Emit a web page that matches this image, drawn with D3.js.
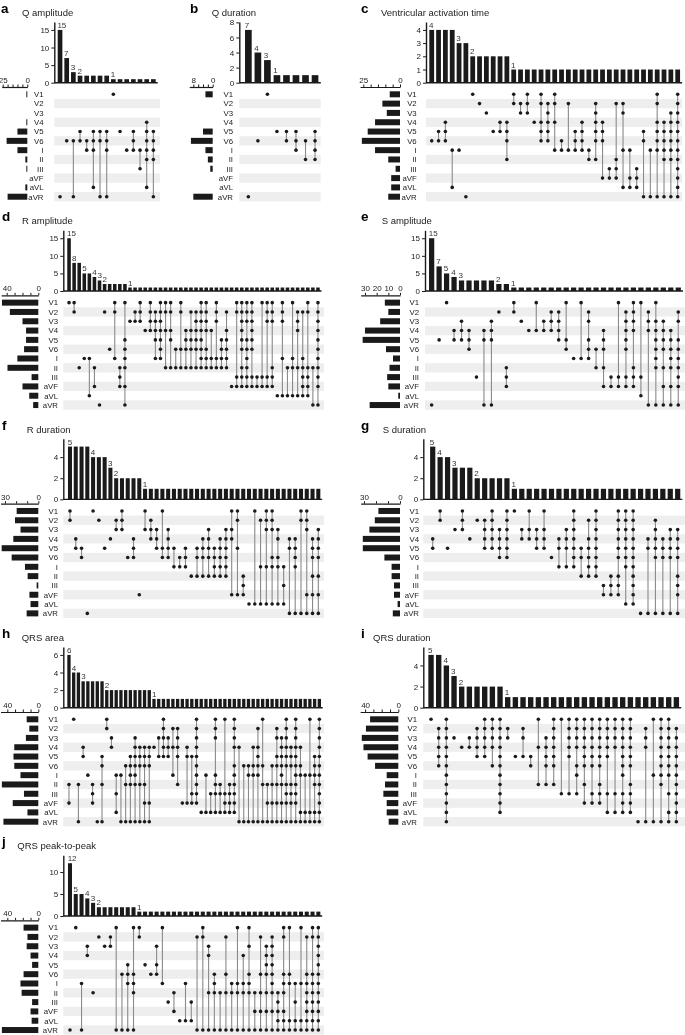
<!DOCTYPE html>
<html><head><meta charset="utf-8">
<script src="https://cdn.jsdelivr.net/npm/d3@7"></script>
<style>
body{margin:0;background:#fff}
svg{display:block;font-family:"Liberation Sans",Arial,Helvetica,sans-serif;will-change:transform}
</style>
</head><body>
<svg id="chart" width="685" height="1035"></svg>
<script>
// Leads (matrix rows). In the set strings below each character is an index into LEADS:
// 0..9 -> V1..aVF, a -> aVL, b -> aVR
const LEADS = ["V1","V2","V3","V4","V5","V6","I","II","III","aVF","aVL","aVR"];

// a: Q amplitude
const aCounts = [15,7,3,2,2,2,2,2,1,1,1,1,1,1,1];
const aSets = ["b","5","5b","45","56","456a","45b","456b","0","4","6","456","68","34567a","4567b"];
const aSizes = [1,0,0,1,10,21,10,2,1,0,2,20];
const aYTicks = [0,5,10,15];
const aSizeTicks = [0,5,10,15,20,25];
const aSizeLabels = [25,0];

// b: Q duration
const bCounts = [7,4,3,1,1,1,1,1];
const bSets = ["b","5","0","4","45","456","57","4567"];
const bSizes = [3,0,0,0,4,9,3,2,1,0,0,8];
const bYTicks = [0,2,4,6,8];
const bSizeTicks = [0,2,4,6,8];
const bSizeLabels = [8,0];

// c: Ventricular activation time
const cCounts = [4,4,4,4,3,3,2,2,2,2,2,2,1,1,1,1,1,1,1,1,1,1,1,1,1,1,1,1,1,1,1,1,1,1,1,1,1];
const cSets = ["5","45","345","6a","6","b","0","1","2","4","34","3457","01","12","012","3","01345","12345","0136","56","16","456","3456","67","123457","3459","89","1789","126a","69a","89a","45b","6b","013456b","34567b","234567b","0123456789ab"];
const cSizes = [7,12,9,17,22,26,17,8,3,6,6,8];
const cYTicks = [0,1,2,3,4];
const cSizeTicks = [0,5,10,15,20,25];
const cSizeLabels = [25,0];

// d: R amplitude
const dCounts = [15,8,8,5,5,4,3,2,2,2,2,2,1,1,1,1,1,1,1,1,1,1,1,1,1,1,1,1,1,1,1,1,1,1,1,1,1,1,1,1,1,1,1,1,1,1,1,1,1,1];
const dSets = ["0","01","7","6","6a","79","b","1","5","016","789","045679b","2","12","012","3","0123","12346","0123456","0137","01347","57","0157","3457","13457","123457","01234567","0123567","367","01267","4567","134567","9","0189","012345789","012456789","01234589","89","089","01289","012789","a","0126a","7a","067a","1237a","16789a","01789a","7b","0123456789b"];
const dSizes = [46,36,20,15.5,15.5,18,26.5,39,8.5,20,11.5,6.5];
const dYTicks = [0,5,10,15];
const dSizeTicks = [0,10,20,30,40];
const dSizeLabels = [40,0];

// e: S amplitude
const eCounts = [15,7,5,4,3,3,3,3,3,2,2,1,1,1,1,1,1,1,1,1,1,1,1,1,1,1,1,1,1,1,1,1,1,1];
const eSets = ["b","4","0","34","234","345","8","34b","234b","1","789","01","2","3","03","23","123","1234","045","6","06","12456","57","34579","89","089","1234589","0123789","08a","123b","0234567b","234579b","345679b","12456789b"];
const eSizes = [13,10,17,30,32,12,6,9,11,10,1.5,26];
const eYTicks = [0,5,10,15];
const eSizeTicks = [0,10,20,30];
const eSizeLabels = [30,20,10,0];

// f: R duration
const fCounts = [5,5,5,5,4,4,4,3,2,2,2,2,2,1,1,1,1,1,1,1,1,1,1,1,1,1,1,1,1,1,1,1,1,1,1,1,1,1,1,1,1,1,1,1];
const fSets = ["01","34","45","b","0","1","4","3","12","012","5","345","9","02","123","234","045","2345","46","56","456","7","457","3457","23457","4567","34567","234567","0239","0149","789","a","0a","16a","0126a","01256a","2356a","68a","34b","3456b","01b","0129b","34579b","234579b"];
const fSizes = [19.5,21,16,22.5,33,24,12,9.6,1.5,8,7,10.5];
const fYTicks = [0,2,4];
const fSizeTicks = [0,10,20,30];
const fSizeLabels = [30,0];

// g: S duration
const gCounts = [5,4,4,3,3,3,2,2,2,2,2,1,1,1,1,1,1,1,1,1,1,1,1,1,1,1,1,1,1,1,1,1,1,1];
const gSets = ["34","01","4","2","012","3","1","1234","01234","2345","012345","0","23","023","234","0234","5","346","2346","0123456","457","134567","01234567","89","789","012345789","0123456a","0123456789a","b","34b","12345b","345b","2345b","2345789b"];
const gSizes = [18,21,25.5,31,31,13,7,7,5,5,2,6];
const gYTicks = [0,2,4];
const gSizeTicks = [0,10,20,30];
const gSizeLabels = [30,0];

// h: QRS area
const hCounts = [6,4,4,3,3,3,3,3,2,2,2,2,2,2,2,2,2,2,1,1,1,1,1,1,1,1,1,1,1,1,1,1,1,1,1,1,1,1,1,1,1,1,1,1,1,1,1,1,1,1,1,1,1,1];
const hSets = ["79","0","7b","34","6","789","b","457b","01","23","68a","6b","57b","4567b","234567b","3457b","34579b","3459b","3","24","01234","234","136","12347","9","349","489","0123456789","a","6a","8a","012678a","78a","089a","789a","012356789a","3b","5b","56b","356b","13456b","057b","79b","579b","124579b","2345679b","012345789b","345789b","0123456789b","356ab","6ab","06ab","4567ab","0123456789ab"];
const hSizes = [15,11.6,16,31,32,31,23,47,18.5,33,14,45];
const hYTicks = [0,2,4,6];
const hSizeTicks = [0,10,20,30,40];
const hSizeLabels = [40,0];

// i: QRS duration
const iCounts = [5,5,4,3,2,2,2,2,2,2,1,1,1,1,1,1,1,1,1,1,1,1,1,1,1,1,1,1,1,1,1,1,1];
const iSets = ["0","12345","0123456789ab","2","3","23","1234","01234","01235","0123456789a","12","4","124","45","037","23457","0123457","08","012348","0123568","01234579","01234589","012345789","012348a","01238a","012345689a","012345789a","b","123b","06b","01234567b","01234568ab","123456789ab"];
const iSizes = [34,39,44,42,37,28,14,16,18,14,14,11.6];
const iYTicks = [0,2,4];
const iSizeTicks = [0,10,20,30,40];
const iSizeLabels = [40,0];

// j: QRS peak-to-peak
const jCounts = [12,5,5,4,3,2,2,2,2,2,2,2,1,1,1,1,1,1,1,1,1,1,1,1,1,1,1,1,1,1,1,1,1,1,1,1,1,1,1,1,1,1,1,1];
const jSets = ["b","0","6b","23","7","1","2","12","0b","5b","456b","0567b","01","4","5","245","06","8","79","a","6a","8a","1b","01b","237b","567b","7b","157b","67b","067b","367b","02567b","79b","1579b","234579b","12345679b","789ab","015679ab","056ab","68ab","06ab","156789ab","0156789ab","0123456789ab"];
const jSizes = [19,14,15,10,8,19,23,21.5,8,10,8.6,47];
const jYTicks = [0,5,10];
const jSizeTicks = [0,10,20,30,40];
const jSizeLabels = [40,0];

// ---------------- layout (positions only) ----------------
const ROW_H = 208.33;
const panels = [
  {id:"a", title:"Q amplitude", row:0, letterX:1, titleX:22, ax:54.3, rx:160, bx0:56.7, bx1:156.7, setRight:27.3, setPx:0.985, setMax:26, labelRight:43.5,
   counts:aCounts, sets:aSets, sizes:aSizes, yTicks:aYTicks, sizeTicks:aSizeTicks, sizeLabels:aSizeLabels},
  {id:"b", title:"Q duration", row:0, letterX:190, titleX:211.7, ax:239.3, rx:320.7, bx0:243.6, bx1:319.8, setRight:212.7, setPx:2.42, setMax:9.7, labelRight:233,
   counts:bCounts, sets:bSets, sizes:bSizes, yTicks:bYTicks, sizeTicks:bSizeTicks, sizeLabels:bSizeLabels},
  {id:"c", title:"Ventricular activation time", row:0, letterX:361, titleX:381, ax:426, rx:682, bx0:428.3, bx1:681.1, setRight:400, setPx:1.468, setMax:27.2, labelRight:416.7,
   counts:cCounts, sets:cSets, sizes:cSizes, yTicks:cYTicks, sizeTicks:cSizeTicks, sizeLabels:cSizeLabels},
  {id:"d", title:"R amplitude", row:1, letterX:2, titleX:22, ax:63.3, rx:324, bx0:66.5, bx1:320.5, setRight:38.3, setPx:0.79, setMax:47, labelRight:58,
   counts:dCounts, sets:dSets, sizes:dSizes, yTicks:dYTicks, sizeTicks:dSizeTicks, sizeLabels:dSizeLabels},
  {id:"e", title:"S amplitude", row:1, letterX:361, titleX:381.7, ax:425, rx:685, bx0:427.9, bx1:682, setRight:400, setPx:1.167, setMax:33.7, labelRight:419,
   counts:eCounts, sets:eSets, sizes:eSizes, yTicks:eYTicks, sizeTicks:eSizeTicks, sizeLabels:eSizeLabels},
  {id:"f", title:"R duration", row:2, letterX:2, titleX:26.7, ax:63.3, rx:324, bx0:67.1, bx1:321.2, setRight:38.3, setPx:1.11, setMax:34, labelRight:58,
   counts:fCounts, sets:fSets, sizes:fSizes, yTicks:fYTicks, sizeTicks:fSizeTicks, sizeLabels:fSizeLabels},
  {id:"g", title:"S duration", row:2, letterX:361, titleX:382.7, ax:423.3, rx:685, bx0:429, bx1:681.4, setRight:400, setPx:1.2, setMax:32.8, labelRight:419,
   counts:gCounts, sets:gSets, sizes:gSizes, yTicks:gYTicks, sizeTicks:gSizeTicks, sizeLabels:gSizeLabels},
  {id:"h", title:"QRS area", row:3, letterX:2, titleX:21.7, ax:63.3, rx:324, bx0:66.6, bx1:321.7, setRight:38.3, setPx:0.775, setMax:48.8, labelRight:58,
   counts:hCounts, sets:hSets, sizes:hSizes, yTicks:hYTicks, sizeTicks:hSizeTicks, sizeLabels:hSizeLabels},
  {id:"i", title:"QRS duration", row:3, letterX:361, titleX:373, ax:423.3, rx:685, bx0:427.2, bx1:680.2, setRight:398.3, setPx:0.83, setMax:46, labelRight:417,
   counts:iCounts, sets:iSets, sizes:iSizes, yTicks:iYTicks, sizeTicks:iSizeTicks, sizeLabels:iSizeLabels},
  {id:"j", title:"QRS peak-to-peak", row:4, letterX:2, titleX:17.3, ax:63.3, rx:324, bx0:67.1, bx1:321.2, setRight:38.3, setPx:0.775, setMax:48.8, labelRight:58,
   counts:jCounts, sets:jSets, sizes:jSizes, yTicks:jYTicks, sizeTicks:jSizeTicks, sizeLabels:jSizeLabels}
];

const svg = d3.select("#chart");
const INK = "#1a1a1a";
const codeIdx = ch => parseInt(ch, 16);

function drawPanel(p) {
  const oy = p.row * ROW_H;
  const g = svg.append("g");

  g.append("text").attr("x", p.letterX).attr("y", 13 + oy)
    .attr("font-size", 13.5).attr("font-weight", "bold").attr("fill", "#000").text(p.id);
  g.append("text").attr("x", p.titleX).attr("y", 16 + oy)
    .attr("font-size", 9.5).attr("fill", "#222").text(p.title);

  const n = p.counts.length;
  const x = d3.scaleBand().domain(d3.range(n)).range([p.bx0, p.bx1]).paddingInner(0.3).paddingOuter(0.15);
  const y = d3.scaleLinear().domain([0, d3.max(p.counts) * 1.15]).range([82.7 + oy, 22 + oy]);
  const rowY = d3.scaleBand().domain(LEADS).range([89.65 + oy, 89.65 + oy + 12 * 9.31]);
  const rc = l => rowY(l) + rowY.bandwidth() / 2;

  // matrix stripes
  g.append("g").selectAll("rect").data(LEADS.filter((l, i) => i % 2 === 1)).join("rect")
    .attr("x", p.ax).attr("width", p.rx - p.ax)
    .attr("y", l => rowY(l)).attr("height", rowY.bandwidth())
    .attr("fill", "#eeeeee");

  // intersection bars
  g.append("g").selectAll("rect").data(p.counts).join("rect")
    .attr("x", (d, i) => x(i)).attr("width", x.bandwidth())
    .attr("y", d => y(d)).attr("height", d => y(0) - y(d)).attr("fill", INK);

  // count labels (first bar of each distinct value)
  g.append("g").selectAll("text")
    .data(p.counts.map((d, i) => ({d, i})).filter(o => o.i === 0 || p.counts[o.i - 1] !== o.d))
    .join("text")
    .attr("x", o => x(o.i) - 0.3).attr("y", o => y(o.d) - 2)
    .attr("font-size", 8).attr("fill", "#333").text(o => o.d);

  // y axis
  const ya = g.append("g").attr("transform", `translate(${p.ax},0)`)
    .call(d3.axisLeft(y).tickValues(p.yTicks).tickFormat(d3.format("d")).tickSize(3).tickSizeOuter(0).tickPadding(2));
  ya.select(".domain").attr("stroke", INK).attr("stroke-width", 1.4);
  ya.selectAll(".tick line").attr("stroke", INK);
  ya.selectAll(".tick text").attr("font-size", 8).attr("fill", "#222").attr("font-family", null);
  // baseline
  g.append("line").attr("x1", p.ax).attr("x2", p.bx1 + 1).attr("y1", y(0)).attr("y2", y(0))
    .attr("stroke", INK).attr("stroke-width", 1.4);

  // matrix: connecting lines and dots
  const cols = p.sets.map((s, i) => ({i, rows: s.split("").map(codeIdx).sort((a, b) => a - b)}));
  const cx = i => x(i) + x.bandwidth() / 2;
  g.append("g").selectAll("line").data(cols.filter(c => c.rows.length > 1)).join("line")
    .attr("x1", c => cx(c.i)).attr("x2", c => cx(c.i))
    .attr("y1", c => rc(LEADS[c.rows[0]])).attr("y2", c => rc(LEADS[c.rows[c.rows.length - 1]]))
    .attr("stroke", "#8a8a8a").attr("stroke-width", 1.1);
  const dots = cols.flatMap(c => c.rows.map(r => ({i: c.i, r})));
  g.append("g").selectAll("circle").data(dots).join("circle")
    .attr("cx", d => cx(d.i)).attr("cy", d => rc(LEADS[d.r])).attr("r", 1.8).attr("fill", INK);

  // set size bars
  const sx = d3.scaleLinear().domain([0, p.setMax]).range([p.setRight, p.setRight - p.setMax * p.setPx]);
  g.append("g").selectAll("rect").data(p.sizes).join("rect")
    .attr("x", d => sx(d)).attr("width", d => p.setRight - sx(d))
    .attr("y", (d, i) => rc(LEADS[i]) - 3).attr("height", 6).attr("fill", INK);
  const sa = g.append("g").attr("transform", `translate(0,${87 + oy})`)
    .call(d3.axisTop(sx).tickValues(p.sizeTicks).tickSize(2.5).tickSizeOuter(0).tickPadding(1.5)
      .tickFormat(d => p.sizeLabels.includes(d) ? d : ""));
  sa.select(".domain").attr("stroke", INK).attr("stroke-width", 1.2);
  sa.selectAll(".tick line").attr("stroke", INK);
  sa.selectAll(".tick text").attr("font-size", 8).attr("fill", "#222").attr("font-family", null);

  // lead labels
  g.append("g").selectAll("text").data(LEADS).join("text")
    .attr("x", p.labelRight).attr("y", l => rc(l) + 2.8)
    .attr("text-anchor", "end").attr("font-size", 7.8).attr("fill", "#222").text(l => l);
}

panels.forEach(drawPanel);
</script>
</body></html>
